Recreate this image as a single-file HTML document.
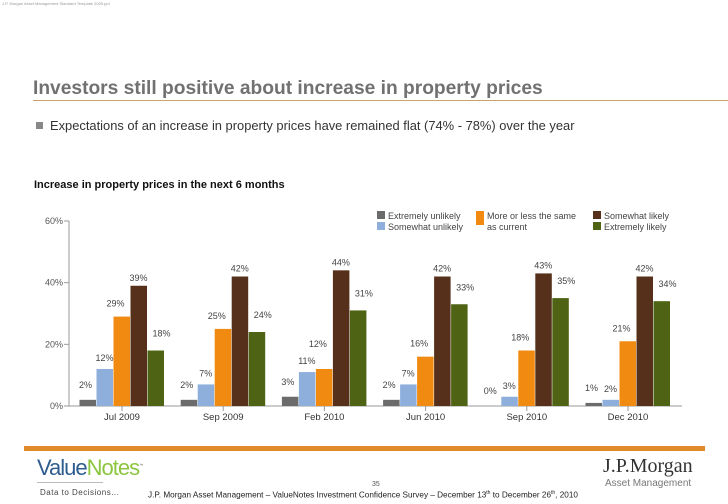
<!DOCTYPE html>
<html><head><meta charset="utf-8"><style>
body{margin:0;width:728px;height:504px;background:#fff;font-family:"Liberation Sans",sans-serif;overflow:hidden;position:relative}
.a{position:absolute;white-space:nowrap}
</style></head><body>
<div class="a" style="left:2px;top:1px;font-size:4px;color:#999">J.P. Morgan Asset Management Standard Template 2009.ppt</div>
<div class="a" style="left:33px;top:78px;font-size:19.2px;font-weight:bold;color:#717171">Investors still positive about increase in property prices</div>
<div class="a" style="left:33px;top:100px;width:695px;height:1px;background:#c9a46a"></div>
<div class="a" style="left:36px;top:122px;width:7px;height:7px;background:#888"></div>
<div class="a" style="left:50px;top:118px;font-size:12.9px;color:#333">Expectations of an increase in property prices have remained flat (74% - 78%) over the year</div>
<div class="a" style="left:34px;top:179px;font-size:11px;font-weight:bold;color:#111">Increase in property prices in the next 6 months</div>
<svg class="a" style="left:0;top:0" width="728" height="504" id="chart"></svg>
<div class="a" style="left:24px;top:446px;width:681px;height:5px;background:#e08a2c"></div>
<div class="a" style="left:37px;top:455px;font-size:22px;letter-spacing:-1px"><span style="color:#2e5d8f">Value</span><span style="color:#8cc63f">Notes</span><sup style="font-size:4px;color:#666">™</sup></div>
<div class="a" style="left:37px;top:482px;width:66px;height:1px;background:#bbb"></div>
<div class="a" style="left:40px;top:488px;font-size:8px;color:#444;letter-spacing:0.5px">Data to Decisions...</div>
<div class="a" style="left:372px;top:481px;font-size:7px;color:#555">35</div>
<div class="a" style="left:148px;top:490px;font-size:8.2px;color:#222">J.P. Morgan Asset Management – ValueNotes Investment Confidence Survey – December 13<sup style="font-size:5px">th</sup> to December 26<sup style="font-size:5px">th</sup>, 2010</div>
<div class="a" style="left:603px;top:455px;font-family:'Liberation Serif',serif;font-size:20px;color:#333">J.P.Morgan</div>
<div class="a" style="left:605px;top:478px;font-size:10px;color:#777">Asset Management</div>
<script>
const categories=["Jul 2009","Sep 2009","Feb 2010","Jun 2010","Sep 2010","Dec 2010"];
const seriesNames=["Extremely unlikely","Somewhat unlikely","More or less the same as current","Somewhat likely","Extremely likely"];
const extremelyUnlikely=[2,2,3,2,0,1];
const somewhatUnlikely=[12,7,11,7,3,2];
const moreOrLess=[29,25,12,16,18,21];
const somewhatLikely=[39,42,44,42,43,42];
const extremelyLikely=[18,24,31,33,35,34];
const yTicks=[0,20,40,60];
const colors=["#6b6b6b","#8eaedc","#f08a10","#56301a","#4e6414"];
const series=[extremelyUnlikely,somewhatUnlikely,moreOrLess,somewhatLikely,extremelyLikely];
const labelDx=[-2,0,-6,0,6];
const labelDy=[12,8,10,5,14];
const svg=document.getElementById('chart');const NS="http://www.w3.org/2000/svg";
const y0=406,pxPer=185/60;
const y=v=>y0-v*pxPer;
const xc=i=>122+i*101.2;
function el(t,a,p){const e=document.createElementNS(NS,t);for(const k in a)e.setAttribute(k,a[k]);(p||svg).appendChild(e);return e;}
const ax=el('line',{x1:69,y1:y(60),x2:69,y2:y0,stroke:'#999'});


const bx=el('line',{x1:69,y1:y0,x2:682,y2:y0,stroke:'#999'});


yTicks.forEach(t=>{
 el('line',{x1:64,y1:y(t),x2:69,y2:y(t),stroke:'#999'});
 const tx=el('text',{x:63,y:y(t)+3,'text-anchor':'end','font-size':9,fill:'#555'});tx.textContent=t+'%';
 
 
});
categories.forEach((c,i)=>{
 el('line',{x1:xc(i),y1:y0,x2:xc(i),y2:y0+5,stroke:'#999'});
 const tx=el('text',{x:xc(i),y:y0+14,'text-anchor':'middle','font-size':9.5,fill:'#333'});tx.textContent=c;
 
 
 series.forEach((s,j)=>{
  const x=xc(i)-42.5+j*17,v=s[i];
  const r=el('rect',{x:x,y:y(v),width:16.5,height:v*pxPer,fill:colors[j]});
  
  
  let dy=labelDy[j];
  if(j==2 && Math.abs(s[i]-series[1][i])<4) dy+=12;
  const lb=el('text',{x:x+8+labelDx[j],y:y(v)-dy,'text-anchor':'middle','font-size':9,fill:'#444'});lb.textContent=v+'%';
  
  
 });
});
const leg=[[377,211,0,"Extremely unlikely"],[377,222,1,"Somewhat unlikely"],[476,211,2,"More or less the same"],[593,211,3,"Somewhat likely"],[593,222,4,"Extremely likely"]];
leg.forEach(l=>{
 const r=el('rect',{x:l[0],y:l[1],width:8,height:l[2]==2?14:8,fill:colors[l[2]]});
 
 
 const t=el('text',{x:l[0]+11,y:l[1]+8,'font-size':9,fill:'#444'});t.textContent=l[3];
 
 
});
const t2=el('text',{x:487,y:230,'font-size':9,fill:'#444'});t2.textContent="as current";


</script>
</body></html>
